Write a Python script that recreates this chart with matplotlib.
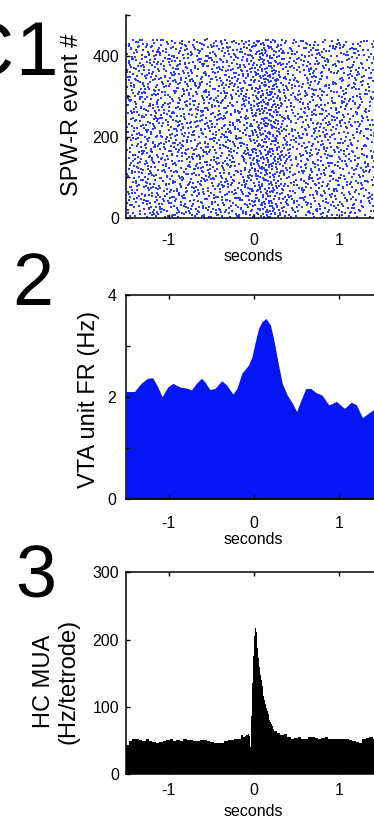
import numpy as np
import matplotlib
matplotlib.use("Agg")
import matplotlib.pyplot as plt

plt.rcParams["font.family"] = ["Liberation Sans", "DejaVu Sans"]
plt.rcParams["axes.unicode_minus"] = False

# panel 2: VTA unit firing rate (Hz)
vta_t = [-1.5, -1.40, -1.325, -1.246, -1.187, -1.128, -1.077, -1.01, -0.95, -0.872,
         -0.773, -0.734, -0.675, -0.615, -0.576, -0.517, -0.458, -0.379, -0.32, -0.248,
         -0.20, -0.142, -0.063, -0.024, 0.016, 0.055, 0.095, 0.142, 0.193, 0.233,
         0.272, 0.331, 0.39, 0.45, 0.50, 0.55, 0.607, 0.666, 0.726, 0.797,
         0.876, 0.923, 0.963, 1.06, 1.14, 1.20, 1.27, 1.337, 1.396, 1.435, 1.5]
vta_rate = [2.11, 2.11, 2.27, 2.37, 2.38, 2.20, 2.01, 2.20, 2.27, 2.20,
            2.17, 2.14, 2.27, 2.37, 2.30, 2.15, 2.17, 2.32, 2.24, 2.06,
            2.17, 2.47, 2.63, 2.79, 3.09, 3.35, 3.48, 3.54, 3.41, 3.12,
            2.76, 2.27, 2.04, 1.88, 1.72, 1.94, 2.17, 2.17, 2.09, 2.04,
            1.85, 1.88, 1.92, 1.78, 1.90, 1.85, 1.60, 1.68, 1.75, 1.88, 1.95]

# panel 3: hippocampal MUA histogram, bin edges and heights
mua_edges = [-1.5, -1.47, -1.43, -1.39, -1.35, -1.31, -1.27, -1.23, -1.19, -1.15,
             -1.11, -1.07, -1.03, -0.99, -0.95, -0.91, -0.87, -0.83, -0.79, -0.75,
             -0.71, -0.67, -0.63, -0.59, -0.55, -0.51, -0.47, -0.43, -0.39, -0.35,
             -0.31, -0.27, -0.23, -0.19, -0.15, -0.13, -0.11, -0.09, -0.07, -0.055,
             -0.045, -0.03, -0.02, -0.01, 0.0, 0.01, 0.02, 0.03, 0.04, 0.05,
             0.06, 0.07, 0.08, 0.09, 0.10, 0.11, 0.12, 0.13, 0.14, 0.15,
             0.16, 0.17, 0.18, 0.19, 0.20, 0.21, 0.22, 0.24, 0.27, 0.31,
             0.35, 0.39, 0.43, 0.47, 0.51, 0.55, 0.59, 0.63, 0.67, 0.71,
             0.75, 0.79, 0.83, 0.87, 0.91, 0.95, 0.99, 1.03, 1.07, 1.11,
             1.15, 1.19, 1.23, 1.27, 1.31, 1.35, 1.39, 1.43, 1.47, 1.5]
mua_vals = [44, 50, 52, 53, 51, 50, 52, 49, 48, 46,
            48, 50, 51, 52, 50, 51, 50, 52, 51, 51,
            50, 50, 51, 51, 49, 48, 46, 46, 47, 50,
            51, 51, 52, 53, 58, 56, 57, 59, 60, 57,
            41, 86, 135, 175, 205, 217, 212, 198, 188, 172,
            160, 148, 140, 131, 124, 116, 110, 104, 99, 94,
            89, 84, 80, 77, 74, 71, 67, 64, 61, 58,
            60, 56, 53, 54, 55, 53, 53, 55, 56, 54,
            52, 54, 55, 53, 52, 53, 53, 52, 52, 51,
            50, 48, 46, 52, 54, 55, 53, 53, 52]

# panel 1: raster of the same unit, one row per SPW-R event
n_events = 440
xticks = [-1, 0, 1]


def halton(i, base):
    f, r = 1.0, 0.0
    while i > 0:
        f /= base
        r += f * (i % base)
        i //= base
    return r


# single spikes cannot be read from the picture: the raster is spread over the
# panel with a fixed Halton pattern, thinned so its density follows panel 2
n_spikes = int(round(n_events * sum(0.5 * (vta_rate[i] + vta_rate[i + 1]) * (vta_t[i + 1] - vta_t[i])
                                    for i in range(len(vta_t) - 1))))
rmax = max(vta_rate)
spk_t, spk_ev = [], []
k = 0
while len(spk_t) < n_spikes:
    k += 1
    t = -1.5 + 3.0 * halton(k, 2)
    seg = min(np.searchsorted(vta_t, t, side="right") - 1, len(vta_t) - 2)
    if halton(k, 5) * rmax <= vta_rate[seg]:
        spk_t.append(t)
        spk_ev.append(1 + (n_events - 1) * halton(k, 3))

fig = plt.figure(figsize=(3.74, 8.18), dpi=100)
W, H = 374.0, 818.0
left, width = 126 / W, 256 / W
ax1 = fig.add_axes([left, 1 - 218 / H, width, 203 / H])
ax2 = fig.add_axes([left, 1 - 499.3 / H, width, 204.3 / H])
ax3 = fig.add_axes([left, 1 - 774.3 / H, width, 202 / H])

tick_fs = 11.5
lab_fs = 17

# --- C1 raster
ax1.scatter(spk_t, spk_ev, s=1.1, marker="s", color="#2a3cff", linewidths=0)
ax1.set_xlim(-1.5, 1.5)
ax1.set_ylim(0, 500)
ax1.spines["top"].set_visible(False)
ax1.spines["right"].set_visible(False)
ax1.set_yticks([0, 200, 400])
ax1.set_yticks([100, 300, 500], minor=True)
ax1.set_xticks(xticks)
ax1.tick_params(which="both", direction="in", length=3, width=1)
ax1.tick_params(axis="y", labelsize=tick_fs, pad=5)
ax1.tick_params(axis="x", labelsize=tick_fs, pad=11)
ax1.text(-0.211, 0.507, "SPW-R event #", transform=ax1.transAxes, rotation=90,
         ha="center", va="center", fontsize=lab_fs)
ax1.text(0.496, -0.153, "seconds", transform=ax1.transAxes, ha="center", va="top",
         fontsize=tick_fs)

# --- 2 VTA firing rate
ax2.fill_between(vta_t, vta_rate, 0, color="#0515f5", linewidth=0)
ax2.set_xlim(-1.5, 1.5)
ax2.set_ylim(0, 4)
ax2.set_yticks([0, 2, 4])
ax2.set_yticks([1, 3], minor=True)
ax2.set_xticks(xticks)
ax2.tick_params(which="both", direction="in", length=3, width=1, top=True, right=True)
ax2.tick_params(axis="y", labelsize=tick_fs, pad=7)
ax2.tick_params(axis="x", labelsize=tick_fs, pad=12)
ax2.text(-0.145, 0.488, "VTA unit FR (Hz)", transform=ax2.transAxes, rotation=90,
         ha="center", va="center", fontsize=lab_fs)
ax2.text(0.496, -0.158, "seconds", transform=ax2.transAxes, ha="center", va="top",
         fontsize=tick_fs)

# --- 3 HC MUA
ax3.stairs(mua_vals, mua_edges, fill=True, color="black", linewidth=0)
ax3.set_xlim(-1.5, 1.5)
ax3.set_ylim(0, 300)
ax3.set_yticks([0, 100, 200, 300])
ax3.set_xticks(xticks)
ax3.tick_params(direction="in", length=3, width=1, top=True, right=True)
ax3.tick_params(axis="y", labelsize=tick_fs, pad=5)
ax3.tick_params(axis="x", labelsize=tick_fs, pad=6)
ax3.text(-0.273, 0.458, "HC MUA\n(Hz/tetrode)", transform=ax3.transAxes, rotation=90,
         ha="center", va="center", fontsize=lab_fs, linespacing=1.15)
ax3.text(0.496, -0.147, "seconds", transform=ax3.transAxes, ha="center", va="top",
         fontsize=tick_fs)

for ax in (ax1, ax2, ax3):
    for sp in ax.spines.values():
        sp.set_linewidth(1.1)

# panel letters ("C" runs off the left edge, as in the original crop)
fig.text(13 / W, 1 - 75 / H, "C", ha="right", va="baseline", fontsize=55)
fig.text(15 / W, 1 - 75 / H, "1", ha="left", va="baseline", fontsize=55)
fig.text(12 / W, 1 - 305 / H, "2", ha="left", va="baseline", fontsize=53)
fig.text(15 / W, 1 - 597 / H, "3", ha="left", va="baseline", fontsize=53)

fig.savefig("out.png", dpi=100)
